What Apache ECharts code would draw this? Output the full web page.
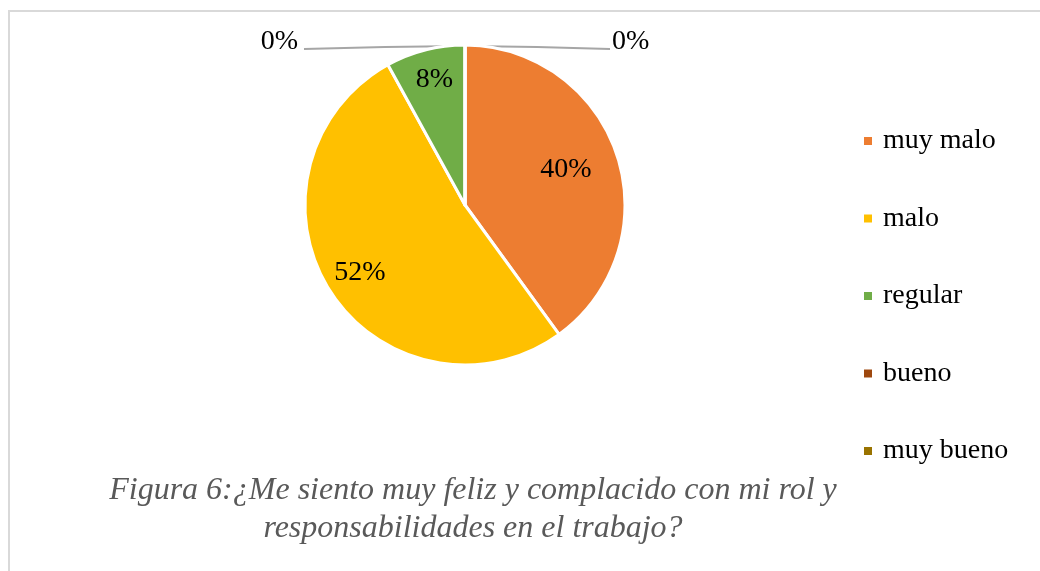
<!DOCTYPE html>
<html>
<head>
<meta charset="utf-8">
<script src="https://cdn.jsdelivr.net/npm/echarts@6/dist/echarts.min.js"></script>
<style>
    html, body { margin: 0; padding: 0; background: #fff; }
    #chart { width: 1040px; height: 571px; }
</style>
</head>
<body>
<div id="chart"></div>
<script>
// datos de la figura
var categorias = ['muy malo', 'malo', 'regular', 'bueno', 'muy bueno'];
var valores = [40, 52, 8, 0, 0];
var colores = ['#ED7D31', '#FFC000', '#70AD47', '#9E480E', '#997300'];
var titulo1 = 'Figura 6:¿Me siento muy feliz y complacido con mi rol y';
var titulo2 = 'responsabilidades en el trabajo?';

var cx = 465, cy = 205, R = 160;
var fuente = '"Liberation Serif", "Times New Roman", serif';

var datos = [];
for (var i = 0; i < categorias.length; i++) {
    var item = { name: categorias[i], value: valores[i], itemStyle: { color: colores[i] } };
    if (valores[i] == 0) {
        item.label = { position: 'outside' };
        item.labelLine = { show: true };
    }
    datos.push(item);
}

// desplazamientos de etiquetas internas (como en Excel)
var ajustes = [[22, -10], [-35, 23], [-10, -45]];

var dom = document.getElementById('chart');
var myChart = echarts.init(dom);
var option = {
    backgroundColor: '#fff',
    animation: false,
    legend: {
        orient: 'vertical',
        left: 862,
        top: 126,
        padding: 0,
        icon: 'rect',
        itemWidth: 10,
        itemHeight: 10,
        itemGap: 47.5,
        data: categorias,
        textStyle: {
            fontFamily: fuente,
            fontSize: 28,
            lineHeight: 30,
            color: '#000',
            padding: [0, 0, 0, 5]
        }
    },
    graphic: [{
        type: 'rect',
        shape: { x: 9, y: 11, width: 1100, height: 700 },
        style: { fill: 'none', stroke: '#d9d9d9', lineWidth: 2 },
        silent: true
    }, {
        type: 'text',
        x: 473,
        y: 491,
        style: {
            text: titulo1,
            font: 'italic 32px ' + fuente,
            fill: '#595959',
            align: 'center',
            verticalAlign: 'middle'
        }
    }, {
        type: 'text',
        x: 473,
        y: 529,
        style: {
            text: titulo2,
            font: 'italic 32px ' + fuente,
            fill: '#595959',
            align: 'center',
            verticalAlign: 'middle'
        }
    }],
    series: [{
        type: 'pie',
        center: [cx, cy],
        radius: [0, R],
        startAngle: 90,
        clockwise: true,
        avoidLabelOverlap: false,
        percentPrecision: 0,
        itemStyle: { borderColor: '#fff', borderWidth: 3 },
        label: {
            show: true,
            position: 'inside',
            formatter: '{d}%',
            fontFamily: fuente,
            fontSize: 28,
            color: '#000'
        },
        labelLine: {
            show: false,
            lineStyle: { color: '#a6a6a6', width: 2 }
        },
        emphasis: { disabled: true },
        labelLayout: function(params) {
            var i = params.dataIndex;
            if (i < 3) {
                return { dx: ajustes[i][0], dy: ajustes[i][1] };
            }
            if (i == 3) {
                return {
                    x: cx - 167, y: 42, align: 'right', verticalAlign: 'middle',
                    labelLinePoints: [[cx, cy - R + 1], [cx - 80, cy - R + 2], [cx - 161, cy - R + 4]]
                };
            }
            return {
                x: cx + 147, y: 42, align: 'left', verticalAlign: 'middle',
                labelLinePoints: [[cx, cy - R + 1], [cx + 72, cy - R + 2], [cx + 145, cy - R + 4]]
            };
        },
        data: datos
    }]
};

if (option && typeof option === "object") {
    myChart.setOption(option, true);
}
</script>
</body>
</html>
